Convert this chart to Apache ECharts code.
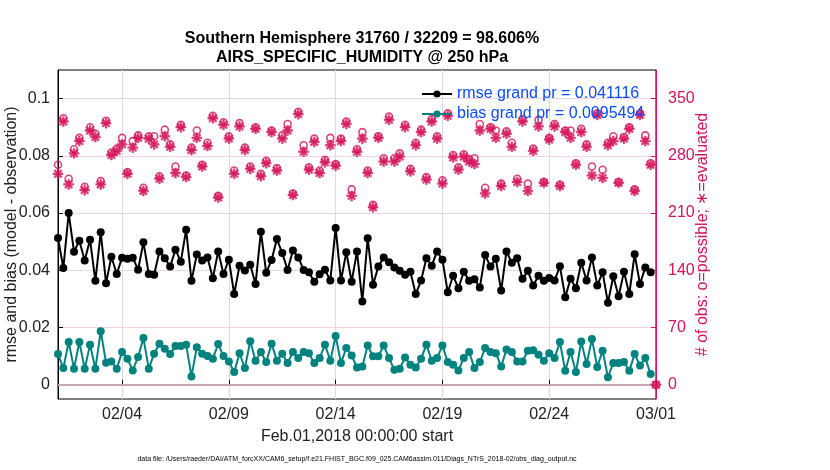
<!DOCTYPE html>
<html>
<head>
<meta charset="utf-8">
<script src="https://cdn.jsdelivr.net/npm/echarts@6/dist/echarts.min.js"></script>
<style>
  html, body { margin: 0; background: #fff; }
  #chart { width: 830px; height: 470px; }
</style>
</head>
<body>
<div id="chart"></div>
<script>
// 6-hourly bins starting Feb.01,2018 00:00:00
const rmse = [
  0.0513, 0.0408, 0.0600, 0.0465, 0.0503, 0.0434, 0.0507, 0.0363, 0.0533, 0.0355,
  0.0447, 0.0387, 0.0444, 0.0440, 0.0444, 0.0402, 0.0498, 0.0387, 0.0384, 0.0466,
  0.0442, 0.0413, 0.0472, 0.0430, 0.0542, 0.0363, 0.0455, 0.0434, 0.0445, 0.0372,
  0.0466, 0.0387, 0.0437, 0.0317, 0.0416, 0.0399, 0.0419, 0.0352, 0.0535, 0.0391,
  0.0436, 0.0509, 0.0460, 0.0401, 0.0469, 0.0445, 0.0401, 0.0393, 0.0360, 0.0386,
  0.0402, 0.0364, 0.0548, 0.0364, 0.0463, 0.0360, 0.0466, 0.0291, 0.0512, 0.0349,
  0.0413, 0.0445, 0.0428, 0.0410, 0.0398, 0.0384, 0.0395, 0.0317, 0.0364, 0.0442,
  0.0416, 0.0466, 0.0437, 0.0323, 0.0381, 0.0337, 0.0395, 0.0363, 0.0369, 0.0340,
  0.0453, 0.0413, 0.0440, 0.0329, 0.0466, 0.0426, 0.0442, 0.0370, 0.0398, 0.0347,
  0.0381, 0.0363, 0.0373, 0.0364, 0.0414, 0.0306, 0.0370, 0.0337, 0.0426, 0.0364,
  0.0445, 0.0347, 0.0393, 0.0286, 0.0379, 0.0309, 0.0395, 0.0317, 0.0456, 0.0352,
  0.0410, 0.0393, null
];
const bias = [
  0.0107, 0.0058, 0.0149, 0.0056, 0.0149, 0.0056, 0.0140, 0.0056, 0.0187, 0.0077,
  0.0081, 0.0056, 0.0114, 0.0091, 0.0050, 0.0097, 0.0163, 0.0056, 0.0108, 0.0143,
  0.0126, 0.0107, 0.0135, 0.0135, 0.0140, 0.0029, 0.0131, 0.0108, 0.0100, 0.0091,
  0.0142, 0.0100, 0.0081, 0.0044, 0.0110, 0.0058, 0.0152, 0.0084, 0.0114, 0.0079,
  0.0143, 0.0084, 0.0108, 0.0076, 0.0114, 0.0093, 0.0114, 0.0110, 0.0076, 0.0093,
  0.0140, 0.0084, 0.0170, 0.0076, 0.0128, 0.0102, 0.0060, 0.0064, 0.0137, 0.0099,
  0.0099, 0.0137, 0.0093, 0.0052, 0.0056, 0.0095, 0.0070, 0.0060, 0.0091, 0.0140,
  0.0084, 0.0093, 0.0137, 0.0079, 0.0070, 0.0050, 0.0093, 0.0114, 0.0058, 0.0079,
  0.0128, 0.0114, 0.0110, 0.0064, 0.0123, 0.0114, 0.0081, 0.0081, 0.0119, 0.0120,
  0.0105, 0.0084, 0.0110, 0.0093, 0.0149, 0.0049, 0.0114, 0.0044, 0.0151, 0.0072,
  0.0160, 0.0062, 0.0119, 0.0026, 0.0076, 0.0076, 0.0079, 0.0049, 0.0107, 0.0067,
  0.0093, 0.0037, null
];
const nPossible = [
  269, 326, 252, 288, 302, 242, 315, 307, 249, 323,
  284, 289, 302, 260, 298, 305, 241, 304, 304, 255,
  312, 294, 267, 318, 256, 290, 311, 269, 296, 329,
  231, 321, 304, 262, 320, 290, 267, 315, 258, 274,
  311, 265, 305, 319, 234, 334, 293, 266, 301, 262,
  275, 302, 270, 301, 322, 239, 288, 309, 262, 220,
  304, 277, 328, 277, 283, 318, 264, 296, 312, 254,
  325, 304, 250, 332, 281, 266, 282, 276, 277, 319,
  241, 315, 311, 246, 310, 296, 252, 325, 246, 289,
  324, 248, 302, 319, 245, 311, 311, 271, 313, 294,
  267, 332, 263, 296, 304, 248, 303, 315, 239, 332,
  305, 271, 0
];
const nEvaluated = [
  258, 322, 245, 283, 298, 238, 311, 303, 245, 320,
  281, 286, 294, 258, 290, 302, 237, 301, 294, 252,
  304, 291, 259, 315, 254, 287, 302, 267, 292, 326,
  229, 318, 301, 258, 316, 287, 264, 313, 255, 271,
  309, 262, 301, 311, 232, 331, 285, 263, 297, 259,
  272, 293, 268, 298, 319, 231, 285, 301, 259, 217,
  302, 273, 324, 273, 279, 315, 261, 293, 309, 251,
  322, 301, 246, 329, 278, 263, 279, 273, 270, 311,
  234, 313, 302, 243, 307, 291, 248, 322, 237, 286,
  316, 247, 300, 316, 243, 309, 302, 269, 309, 291,
  256, 330, 253, 293, 298, 247, 301, 313, 237, 330,
  298, 269, 0
];
const tickDays = [3, 8, 13, 18, 23, 28];
const tickLabels = ['02/04', '02/09', '02/14', '02/19', '02/24', '03/01'];
const leftTicks = [0, 0.02, 0.04, 0.06, 0.08, 0.1];
const rightTicks = [0, 70, 140, 210, 280, 350];

const rmseName = 'rmse grand pr = 0.041116';
const biasName = 'bias grand pr = 0.0095494';
const titleText = 'Southern Hemisphere 31760 / 32209 = 98.606%\nAIRS_SPECIFIC_HUMIDITY @ 250 hPa';
const dataFile = 'data file: /Users/raeder/DAI/ATM_forcXX/CAM6_setup/f.e21.FHIST_BGC.f09_025.CAM6assim.011/Diags_NTrS_2018-02/obs_diag_output.nc';

const pink = '#d4145a';
const teal = '#00837f';
const font = '"Liberation Sans", Arial, Helvetica, sans-serif';

// asterisk marker, drawn as four bars
const starPath = 'path://M0 4.1H10V5.9H0Z M4.1 0H5.9V10H4.1Z M2.1 0.8L9.2 7.9L7.9 9.2L0.8 2.1Z M7.9 0.8L9.2 2.1L2.1 9.2L0.8 7.9Z';

// bin i is at day i/4 after Feb 01 00:00
const pairs = arr => arr.map((v, i) => [i / 4, v]);

const chart = echarts.init(document.getElementById('chart'));

const option = {
  backgroundColor: '#fff',
  animation: false,
  textStyle: { fontFamily: font },
  title: {
    text: titleText,
    left: 357,
    top: 24,
    textAlign: 'center',
    textStyle: { fontSize: 16, fontWeight: 'bold', color: '#000', lineHeight: 19, fontFamily: font }
  },
  legend: {
    data: [rmseName, biasName],
    orient: 'vertical',
    left: 416,
    top: 79,
    itemWidth: 30,
    itemHeight: 9,
    itemGap: 0,
    textStyle: { color: '#0a4cff', fontSize: 16, lineHeight: 20, fontFamily: font }
  },
  graphic: [
    {
      type: 'text', x: 357, y: 456,
      style: { text: dataFile, fontSize: 7, fill: '#000', fontFamily: font, align: 'center' }
    }
  ],
  grid: {
    left: 58, right: 174, top: 70, bottom: 71,
    outerBoundsMode: 'none',
    containLabel: false,
    show: true, borderColor: '#000', borderWidth: 1, backgroundColor: '#fff'
  },
  xAxis: {
    type: 'value',
    min: 0,
    max: 28,
    name: 'Feb.01,2018 00:00:00 start',
    nameLocation: 'middle',
    nameGap: 30,
    nameMoveOverlap: false,
    nameTextStyle: { fontSize: 16, color: '#222', fontFamily: font },
    axisLine: { lineStyle: { color: '#000', width: 1 } },
    axisTick: { inside: true, length: 5, customValues: tickDays, lineStyle: { color: '#000' } },
    axisLabel: {
      customValues: tickDays,
      margin: 8,
      fontSize: 16,
      color: '#222',
      formatter: v => tickLabels[tickDays.indexOf(v)]
    },
    splitLine: { show: true, lineStyle: { color: '#dddddd', width: 1 } }
  },
  yAxis: [
    {
      type: 'value',
      min: -0.005,
      max: 0.11,
      name: 'rmse and bias (model - observation)',
      nameLocation: 'middle',
      nameGap: 38,
      nameMoveOverlap: false,
      nameTextStyle: { fontSize: 16, color: '#222', fontFamily: font },
      axisLine: { show: true, lineStyle: { color: '#000' } },
      axisTick: { show: true, inside: true, length: 5, customValues: leftTicks, lineStyle: { color: '#000' } },
      axisLabel: { customValues: leftTicks, fontSize: 16, color: '#222', margin: 8 },
      splitLine: { show: true, lineStyle: { color: '#f3d3de', width: 1 } }
    },
    {
      type: 'value',
      min: -17.5,
      max: 385,
      position: 'right',
      name: '# of obs: o=possible; \u2217=evaluated',
      nameLocation: 'middle',
      nameGap: 39,
      nameRotate: 90,
      nameMoveOverlap: false,
      nameTextStyle: { fontSize: 16, color: pink, fontFamily: font },
      axisLine: { show: true, lineStyle: { color: pink, width: 1 } },
      axisTick: { show: true, inside: true, length: 5, customValues: rightTicks, lineStyle: { color: pink } },
      axisLabel: { customValues: rightTicks, fontSize: 16, color: pink, margin: 12 },
      splitLine: { show: false }
    }
  ],
  series: [
    {
      name: 'evaluated',
      type: 'scatter',
      yAxisIndex: 1,
      data: pairs(nEvaluated),
      symbol: starPath,
      symbolSize: 10,
      itemStyle: { color: pink, borderColor: pink, borderWidth: 0.5 },
      z: 2
    },
    {
      name: 'possible',
      type: 'scatter',
      yAxisIndex: 1,
      data: pairs(nPossible),
      symbol: 'circle',
      symbolSize: 7,
      itemStyle: { color: 'rgba(255,255,255,0)', borderColor: pink, borderWidth: 1.6 },
      z: 3
    },
    {
      name: rmseName,
      type: 'line',
      data: pairs(rmse),
      symbol: 'circle',
      symbolSize: 8,
      showAllSymbol: true,
      connectNulls: false,
      lineStyle: { color: '#000', width: 2 },
      itemStyle: { color: '#000' },
      z: 4
    },
    {
      name: biasName,
      type: 'line',
      data: pairs(bias),
      symbol: 'circle',
      symbolSize: 8,
      showAllSymbol: true,
      connectNulls: false,
      lineStyle: { color: teal, width: 2 },
      itemStyle: { color: teal },
      z: 4,
      markLine: {
        silent: true,
        symbol: 'none',
        label: { show: false },
        lineStyle: { color: '#c9a6b3', width: 2, type: 'solid' },
        data: [{ yAxis: 0 }],
        z: 1
      }
    }
  ]
};

chart.setOption(option);
</script>
</body>
</html>
